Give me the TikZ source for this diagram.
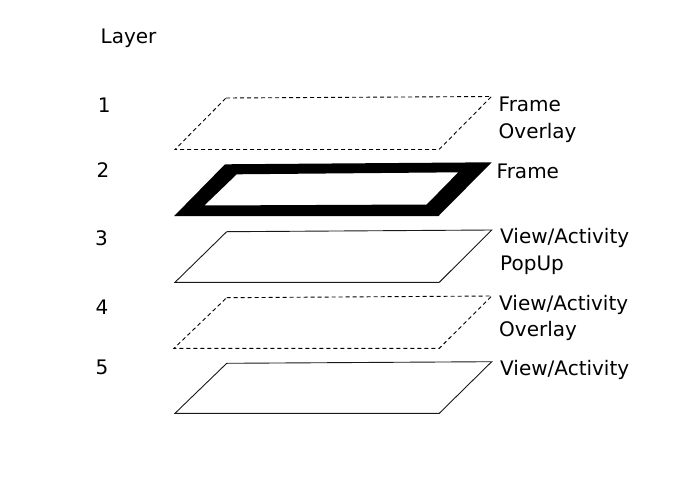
\documentclass[tikz,border=0pt]{standalone}
\usepackage{fontspec}
\setmainfont{DejaVu Sans}
\begin{document}
\begin{tikzpicture}[x=1pt,y=-1pt,
  lbl/.style={anchor=base west,inner sep=0pt,align=left,font=\fontsize{20}{26.7}\selectfont},
  num/.style={anchor=center,inner sep=0pt,font=\fontsize{20}{24}\selectfont},
  plane/.style={draw=black!90,line width=0.9pt,line join=miter},
  dplane/.style={plane,draw=black,dash pattern=on 4pt off 3pt}]
\useasboundingbox[fill=white] (0,0) rectangle (700,495);
% title
\node[lbl] (title) at (100.5,44) {Layer};
% layer numbers
\node[num] (n1) at (104.3,105.5) {1};
\node[num] (n2) at (103,170.5) {2};
\node[num] (n3) at (101.5,238) {3};
\node[num] (n4) at (102,307) {4};
\node[num] (n5) at (102,367) {5};
% layer 1: frame overlay (dashed)
\draw[dplane] (226,98) -- (491.5,96.5) -- (439,149.5) -- (175,149.5) -- cycle;
% layer 2: frame (thick black ring)
\fill[black,even odd rule] (225,164.3) -- (491.7,162.3) -- (438.3,216.2) -- (174,216.2) -- cycle
  (236.7,174.3) -- (458.3,172.3) -- (426.7,204.5) -- (204.3,205.5) -- cycle;
% layer 3: popup
\draw[plane] (226.7,231.7) -- (491.7,230) -- (439.3,282.3) -- (175,282.3) -- cycle;
% layer 4: overlay (dashed)
\draw[dplane] (226.7,297.7) -- (491.7,296) -- (439.3,348.3) -- (174,348.3) -- cycle;
% layer 5: view/activity
\draw[plane] (226.7,363.3) -- (491.7,361.7) -- (439.3,413.3) -- (175,413.3) -- cycle;
% labels (base anchor = last line)
\node[lbl] (l1) at (498.5,138.2) {Frame\\Overlay};
\node[lbl] (l2) at (496.5,178) {Frame};
\node[lbl] (l3) at (500,270) {View/Activity\\PopUp};
\node[lbl] (l4) at (499,336.7) {View/Activity\\Overlay};
\node[lbl] (l5) at (500,375.7) {View/Activity};
\end{tikzpicture}
\end{document}
